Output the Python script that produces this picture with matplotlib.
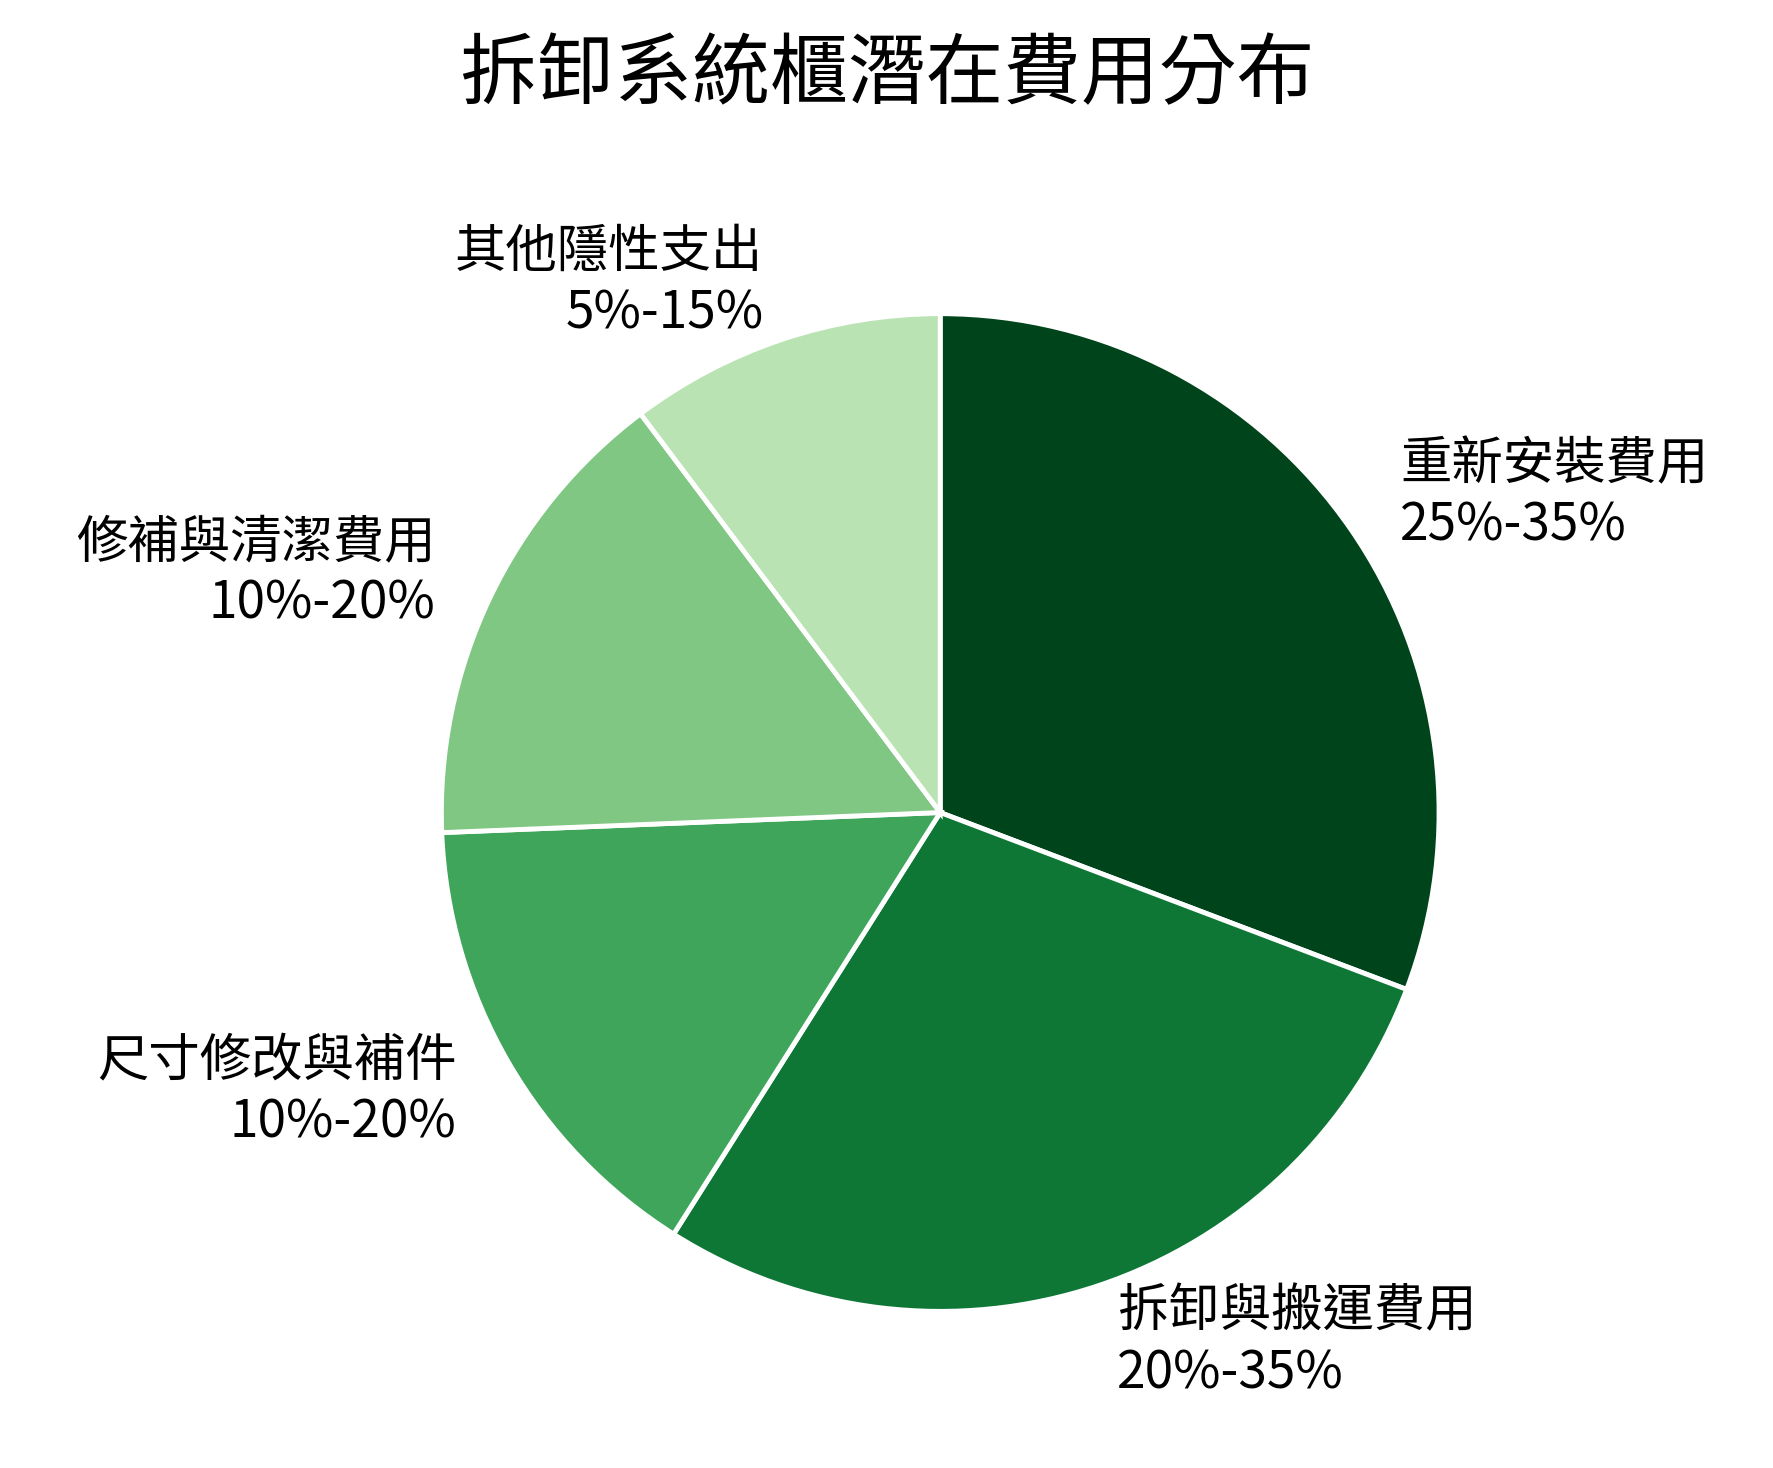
import matplotlib.pyplot as plt

plt.rcParams['font.family'] = ['Noto Sans CJK TC', 'DejaVu Sans']

names = ["重新安裝費用", "拆卸與搬運費用", "尺寸修改與補件", "修補與清潔費用", "其他隱性支出"]
ranges = ["25%-35%", "20%-35%", "10%-20%", "10%-20%", "5%-15%"]
values = [30, 27.5, 15, 15, 10]
colors = ['#00441b', '#0e7736', '#3ea55b', '#80c783', '#b9e3b2']

fig = plt.figure(figsize=(17.74, 14.68), dpi=100)
ax = fig.add_axes([0.246, 0.103, 0.568, 0.687])
labels = [n + "\n" + r for n, r in zip(names, ranges)]
wedges, texts = ax.pie(values, labels=labels, colors=colors, startangle=90,
                       counterclock=False, labeldistance=1.12,
                       wedgeprops=dict(edgecolor='white', linewidth=3.5),
                       textprops=dict(fontsize=37))
for t in texts:
    t.set_multialignment(t.get_ha())
ax.set_xlim(-1.01, 1.01)
ax.set_ylim(-1.01, 1.01)
ax.set_aspect('equal')
fig.suptitle("拆卸系統櫃潛在費用分布", fontsize=56, y=0.975)
fig.savefig("out.png", dpi=100)
